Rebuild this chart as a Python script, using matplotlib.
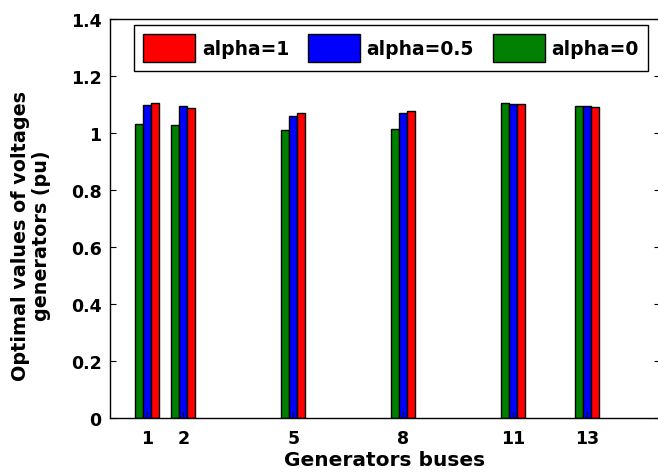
import matplotlib
matplotlib.use("Agg")
import matplotlib.pyplot as plt
import numpy as np

plt.rcParams['font.family'] = ['DejaVu Sans']
plt.rcParams['font.weight'] = 'bold'

buses = [1, 2, 5, 8, 11, 13]
alpha0 = [1.030, 1.026, 1.010, 1.013, 1.104, 1.094]
alpha05 = [1.098, 1.094, 1.058, 1.068, 1.100, 1.094]
alpha1 = [1.103, 1.086, 1.068, 1.075, 1.100, 1.089]
yticks = [0, 0.2, 0.4, 0.6, 0.8, 1, 1.2, 1.4]
ytick_labels = ['0', '0.2', '0.4', '0.6', '0.8', '1', '1.2', '1.4']

fig = plt.figure(figsize=(6.58, 4.77), dpi=100)
ax = fig.add_axes([110/658, 1-419/477, 550/658, (419-19.7)/477])

w = 0.22
x = np.array(buses, dtype=float)
kw = dict(width=w, edgecolor='black', linewidth=1.0)
b0 = ax.bar(x - w, alpha0, color='#008000', label='alpha=0', **kw)
b05 = ax.bar(x, alpha05, color='#0000ff', label='alpha=0.5', **kw)
b1 = ax.bar(x + w, alpha1, color='#ff0000', label='alpha=1', **kw)

ax.set_xlim(0, 15)
ax.set_ylim(0, 1.4)
ax.set_xticks(buses)
ax.set_xticklabels([str(b) for b in buses])
ax.set_yticks(yticks)
ax.set_yticklabels(ytick_labels)
ax.tick_params(direction='in', length=4, labelsize=12.5, right=True, top=False, width=0.8)
ax.tick_params(axis='x', pad=8)
ax.tick_params(axis='y', pad=6)
for lab in ax.get_xticklabels() + ax.get_yticklabels():
    lab.set_fontweight('bold')
for s in ax.spines.values():
    s.set_linewidth(1.0)

ax.set_xlabel('Generators buses', fontsize=14.5, fontweight='bold', labelpad=2)
fig.text(31/658, 1-236/477, 'Optimal values of voltages\ngenerators (pu)', rotation=90,
         ha='center', va='center', multialignment='center', fontsize=13.8, fontweight='bold',
         linespacing=1.15)

leg = ax.legend(handles=[b1, b05, b0], labels=['alpha=1', 'alpha=0.5', 'alpha=0'],
                ncol=3, loc='upper left', bbox_to_anchor=(23.6/550, 1-6.3/399.3),
                prop={'weight': 'bold', 'size': 13.5}, fancybox=False, framealpha=1,
                edgecolor='black', handlelength=2.77, handleheight=1.85, handletextpad=0.37,
                columnspacing=1.0, borderpad=0.5, borderaxespad=0)
leg.get_frame().set_linewidth(1.0)

fig.savefig('out.png', dpi=100)
